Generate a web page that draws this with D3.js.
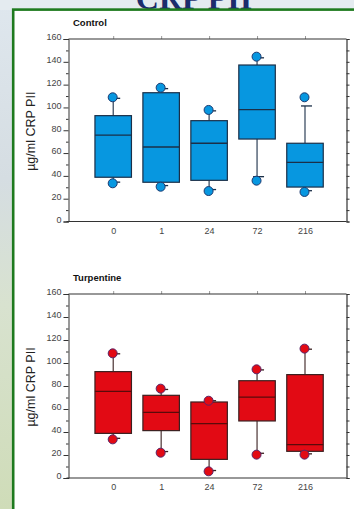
<!DOCTYPE html>
<html><head><meta charset="utf-8">
<script src="https://cdn.jsdelivr.net/npm/d3@7"></script>
<style>html,body{margin:0;padding:0;overflow:hidden;background:#e2e9ee}</style>
</head><body>
<script>
const categories = ["0", "1", "24", "72", "216"];
const yTicks = [0, 20, 40, 60, 80, 100, 120, 140, 160];

const controlQ1 = [38.8, 34.4, 36.1, 72.3, 30.2];
const controlMedian = [75.8, 65.3, 68.6, 98.0, 51.9];
const controlQ3 = [92.8, 112.9, 88.4, 137.2, 68.6];
const controlWhiskerLo = [34.5, 31.5, 28, 39.3, 27];
const controlWhiskerHi = [108, 116.5, 97, 143.5, 101.3];
const controlMin = [33.5, 30.5, 26.7, 35.8, 25.9];
const controlMax = [108.9, 117.3, 97.8, 144.5, 108.9];

const turpQ1 = [38.8, 41.2, 16.2, 49.6, 23.2];
const turpMedian = [75.4, 57.1, 47.2, 70.4, 29.0];
const turpQ3 = [92.5, 71.9, 66.1, 84.6, 89.9];
const turpWhiskerLo = [34.5, 23, 6.5, 21.5, 21];
const turpWhiskerHi = [108, 77, 67.2, 94, 112];
const turpMin = [33.6, 22.0, 5.8, 20.3, 20.3];
const turpMax = [108.4, 77.7, 67.2, 94.5, 112.5];

const W = 354, H = 509;
const svg = d3.select("body").append("svg").attr("width", W).attr("height", H);

const defs = svg.append("defs");
const lg = defs.append("linearGradient").attr("id", "bgL").attr("x1", 0).attr("y1", 0).attr("x2", 0).attr("y2", 1);
lg.append("stop").attr("offset", "0%").attr("stop-color", "#dfe7ee");
lg.append("stop").attr("offset", "35%").attr("stop-color", "#d5dde2");
lg.append("stop").attr("offset", "60%").attr("stop-color", "#d8e2cf");
lg.append("stop").attr("offset", "100%").attr("stop-color", "#cfdcb8");
svg.append("rect").attr("width", W).attr("height", H).attr("fill", "url(#bgL)");
svg.append("rect").attr("width", W).attr("height", 10).attr("fill", "#e4ebf0");

svg.append("text").attr("x", 194).attr("y", 8.5).attr("text-anchor", "middle")
  .attr("font-family", "Liberation Serif, serif").attr("font-weight", "bold")
  .attr("font-size", 32).attr("fill", "#1c2c6c").text("CRP PII");

svg.append("rect").attr("x", 13.2).attr("y", 9.6).attr("width", 360).attr("height", 520)
  .attr("fill", "#ffffff").attr("stroke", "#1e7a1e").attr("stroke-width", 2.6);

function panel(opts) {
  const left = 68.5, right = 346.5, top = opts.top, bottom = opts.bottom;
  const x = d3.scalePoint().domain(categories).range([113.2, 305]);
  const y = d3.scaleLinear().domain([0, 160]).range([bottom, top]);
  const g = svg.append("g");
  const axisCol = "#333";

  g.append("text").attr("x", 73).attr("y", top - 13).attr("font-family", "Liberation Sans, Arial, sans-serif")
    .attr("font-weight", "bold").attr("font-size", 9.5).attr("fill", "#111").text(opts.title);

  // left axis
  const la = g.append("g").attr("transform", `translate(${left},0)`)
    .call(d3.axisLeft(y).tickValues(yTicks).tickSize(5).tickPadding(2).tickFormat(d3.format("d")));
  la.select(".domain").attr("stroke", axisCol);
  la.selectAll(".tick line").attr("stroke", axisCol);
  la.selectAll(".tick text").attr("font-family", "Liberation Sans, Arial, sans-serif").attr("font-size", 9)
    .attr("fill", "#444").attr("dy", "0.1em");
  const minor = d3.range(10, 160, 20);
  g.append("g").attr("transform", `translate(${left},0)`)
    .call(d3.axisLeft(y).tickValues(minor).tickSize(2.5).tickFormat(""))
    .call(s => { s.select(".domain").remove(); s.selectAll(".tick line").attr("stroke", axisCol); });

  // right axis
  g.append("g").attr("transform", `translate(${right},0)`)
    .call(d3.axisRight(y).tickValues(d3.range(0, 170, 10)).tickSize(3).tickFormat(""))
    .call(s => { s.select(".domain").attr("stroke", axisCol).attr("stroke-width", 1.2); s.selectAll(".tick line").attr("stroke", axisCol); });

  // top axis
  g.append("g").attr("transform", `translate(0,${top})`)
    .call(d3.axisTop(x).tickSize(3).tickFormat(""))
    .call(s => { s.select(".domain").remove(); s.selectAll(".tick line").attr("stroke", "#999"); });
  g.append("line").attr("x1", left).attr("x2", right).attr("y1", top).attr("y2", top)
    .attr("stroke", axisCol).attr("stroke-width", 1.2);

  // bottom axis
  const ba = g.append("g").attr("transform", `translate(0,${bottom})`)
    .call(d3.axisBottom(x).tickSize(0).tickPadding(6));
  ba.select(".domain").remove();
  ba.selectAll(".tick text").attr("font-family", "Liberation Sans, Arial, sans-serif").attr("font-size", 9).attr("fill", "#444");
  g.append("line").attr("x1", left - 2).attr("x2", right).attr("y1", bottom).attr("y2", bottom)
    .attr("stroke", axisCol).attr("stroke-width", 1.2);

  // y label
  g.append("text").attr("transform", `translate(35,${(top + bottom) / 2 + 1}) rotate(-90)`)
    .attr("text-anchor", "middle").attr("font-family", "Liberation Sans, Arial, sans-serif")
    .attr("font-size", 12.5).attr("fill", "#222").text("µg/ml CRP PII");

  const bw = 36.5;
  const data = categories.map((c, i) => ({
    c, q1: opts.q1[i], med: opts.med[i], q3: opts.q3[i],
    wlo: opts.wlo[i], whi: opts.whi[i], mn: opts.mn[i], mx: opts.mx[i]
  }));
  const b = g.selectAll(".box").data(data).enter().append("g");
  // whiskers
  b.append("line").attr("x1", d => x(d.c)).attr("x2", d => x(d.c))
    .attr("y1", d => y(d.whi)).attr("y2", d => y(d.q3)).attr("stroke", opts.line).attr("stroke-width", 1.1);
  b.append("line").attr("x1", d => x(d.c)).attr("x2", d => x(d.c))
    .attr("y1", d => y(d.q1)).attr("y2", d => y(d.wlo)).attr("stroke", opts.line).attr("stroke-width", 1.1);
  // caps
  b.append("line").attr("x1", d => x(d.c) - 4).attr("x2", d => x(d.c) + 7)
    .attr("y1", d => y(d.whi)).attr("y2", d => y(d.whi)).attr("stroke", opts.line).attr("stroke-width", 1.3);
  b.append("line").attr("x1", d => x(d.c) - 4).attr("x2", d => x(d.c) + 7)
    .attr("y1", d => y(d.wlo)).attr("y2", d => y(d.wlo)).attr("stroke", opts.line).attr("stroke-width", 1.3);
  // boxes
  b.append("rect").attr("x", d => x(d.c) - bw / 2).attr("width", bw)
    .attr("y", d => y(d.q3)).attr("height", d => y(d.q1) - y(d.q3))
    .attr("fill", opts.fill).attr("stroke", opts.line).attr("stroke-width", 1.2);
  b.append("line").attr("x1", d => x(d.c) - bw / 2).attr("x2", d => x(d.c) + bw / 2)
    .attr("y1", d => y(d.med)).attr("y2", d => y(d.med)).attr("stroke", opts.medLine).attr("stroke-width", 1.3);
  // min / max dots
  b.append("circle").attr("cx", d => x(d.c) - 0.5).attr("cy", d => y(d.mx)).attr("r", 4.5)
    .attr("fill", opts.fill).attr("stroke", opts.dotLine).attr("stroke-width", 1);
  b.append("circle").attr("cx", d => x(d.c) - 0.5).attr("cy", d => y(d.mn)).attr("r", 4.5)
    .attr("fill", opts.fill).attr("stroke", opts.dotLine).attr("stroke-width", 1);
}

panel({
  title: "Control", top: 39, bottom: 221.5,
  q1: controlQ1, med: controlMedian, q3: controlQ3, wlo: controlWhiskerLo, whi: controlWhiskerHi,
  mn: controlMin, mx: controlMax,
  fill: "#0797e0", line: "#1b2f48", medLine: "#1b2f48", dotLine: "#1c3a70"
});
panel({
  title: "Turpentine", top: 294, bottom: 478,
  q1: turpQ1, med: turpMedian, q3: turpQ3, wlo: turpWhiskerLo, whi: turpWhiskerHi,
  mn: turpMin, mx: turpMax,
  fill: "#e20a14", line: "#3a2020", medLine: "#5a0a0a", dotLine: "#5a2468"
});
</script>
</body></html>
